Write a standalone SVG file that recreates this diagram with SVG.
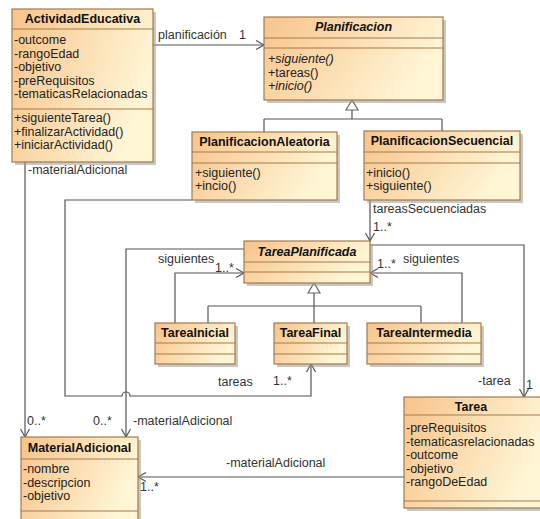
<svg xmlns="http://www.w3.org/2000/svg" width="540" height="519" viewBox="0 0 540 519">
<defs>
<linearGradient id="g" x1="0" y1="0" x2="1" y2="0.35">
<stop offset="0" stop-color="#F8C38A"/>
<stop offset="1" stop-color="#FFF6D6"/>
</linearGradient>
<marker id="open" markerUnits="userSpaceOnUse" markerWidth="12" markerHeight="12" refX="8" refY="4.5" orient="auto" overflow="visible">
<path d="M0,0 L8,4.5 L0,9" fill="none" stroke="#555" stroke-width="1.2"/>
</marker>
</defs>
<style>
.box{fill:url(#g);stroke:#A47A4C;stroke-width:1.2}
.sh{fill:#9a9a9a;opacity:0.55}
.div{stroke:#A47A4C;stroke-width:1.2}
.t{font-family:"Liberation Sans",Arial,sans-serif;font-size:12.5px;fill:#222}
.h{font-family:"Liberation Sans",Arial,sans-serif;font-size:12.5px;font-weight:bold;fill:#111;text-anchor:middle}
.hi{font-style:italic}
.i{font-style:italic}
.c{fill:none;stroke:#555;stroke-width:1.2}
.a{marker-end:url(#open)}
.l{font-family:"Liberation Sans",Arial,sans-serif;font-size:12.5px;fill:#333}
.gen{fill:#fff;stroke:#666;stroke-width:1.2}
</style>

<g id="connectors">
<path class="c a" d="M153,45 H264"/>
<path class="c a" d="M25,162 V437"/>
<path class="c a" d="M244,249 H126 V437"/>
<path class="c a" d="M192,200 H65 V396 H122 A4,4 0 0 1 130,396 H311 V364"/>
<path class="c a" d="M370,200 V241"/>
<path class="c a" d="M370,245 H524 V397"/>
<path class="c a" d="M175,323 V273 H244"/>
<path class="c a" d="M462,323 V273 H370"/>
<path class="c a" d="M404,477 H138"/>
<path class="c" d="M352,110 V119 M264,119 H442 M264,119 V132 M442,119 V131"/>
<polygon class="gen" points="352,100 346,110 358,110"/>
<path class="c" d="M314,293 V306 M208,306 H421 M208,306 V323 M314,306 V323 M421,306 V323"/>
<polygon class="gen" points="314,283 308,293 320,293"/>
<text class="l" x="158" y="39">planificación</text>
<text class="l" x="239" y="39">1</text>
<text class="l" x="28" y="174">-materialAdicional</text>
<text class="l" x="373" y="213">tareasSecuenciadas</text>
<text class="l" x="373" y="231">1..*</text>
<text class="l" x="158" y="263">siguientes</text>
<text class="l" x="215" y="272">1..*</text>
<text class="l" x="377" y="268">1..*</text>
<text class="l" x="403" y="263">siguientes</text>
<text class="l" x="218" y="386">tareas</text>
<text class="l" x="273" y="385">1..*</text>
<text class="l" x="478" y="385">-tarea</text>
<text class="l" x="526" y="389">1</text>
<text class="l" x="27" y="425">0..*</text>
<text class="l" x="93" y="425">0..*</text>
<text class="l" x="133" y="425">-materialAdicional</text>
<text class="l" x="226" y="467">-materialAdicional</text>
<text class="l" x="140" y="491">1..*</text>
</g>

<g id="ActividadEducativa">
<rect class="sh" x="15" y="12" width="141" height="153"/>
<rect class="box" x="12" y="9" width="141" height="153"/>
<path class="div" d="M12,29 H153 M12,109 H153"/>
<text class="h" x="82.5" y="23">ActividadEducativa</text>
<text class="t" x="14" y="44">-outcome</text>
<text class="t" x="14" y="57.5">-rangoEdad</text>
<text class="t" x="14" y="71">-objetivo</text>
<text class="t" x="14" y="84.5">-preRequisitos</text>
<text class="t" x="14" y="98">-tematicasRelacionadas</text>
<text class="t" x="14" y="122">+siguienteTarea()</text>
<text class="t" x="14" y="135.5">+finalizarActividad()</text>
<text class="t" x="14" y="149">+iniciarActividad()</text>
</g>

<g id="Planificacion">
<rect class="sh" x="267" y="20" width="179" height="83"/>
<rect class="box" x="264" y="17" width="179" height="83"/>
<path class="div" d="M264,38 H443 M264,48 H443"/>
<text class="h hi" x="353.5" y="31">Planificacion</text>
<text class="t i" x="268" y="63">+siguiente()</text>
<text class="t" x="268" y="76.5">+tareas()</text>
<text class="t i" x="268" y="90">+inicio()</text>
</g>

<g id="PlanificacionAleatoria">
<rect class="sh" x="195" y="135" width="145" height="68"/>
<rect class="box" x="192" y="132" width="145" height="68"/>
<path class="div" d="M192,152 H337 M192,163 H337"/>
<text class="h" x="264.5" y="146">PlanificacionAleatoria</text>
<text class="t" x="195" y="176.5">+siguiente()</text>
<text class="t" x="195" y="190">+incio()</text>
</g>

<g id="PlanificacionSecuencial">
<rect class="sh" x="367" y="134" width="156" height="69"/>
<rect class="box" x="364" y="131" width="156" height="69"/>
<path class="div" d="M364,152 H520 M364,163 H520"/>
<text class="h" x="442" y="145">PlanificacionSecuencial</text>
<text class="t" x="366" y="176.5">+inicio()</text>
<text class="t" x="366" y="190">+siguiente()</text>
</g>

<g id="TareaPlanificada">
<rect class="sh" x="247" y="244" width="126" height="42"/>
<rect class="box" x="244" y="241" width="126" height="42"/>
<path class="div" d="M244,262 H370 M244,272 H370"/>
<text class="h hi" x="307" y="255.5">TareaPlanificada</text>
</g>

<g id="TareaInicial">
<rect class="sh" x="158" y="326" width="80" height="41"/>
<rect class="box" x="155" y="323" width="80" height="41"/>
<path class="div" d="M155,343 H235 M155,354 H235"/>
<text class="h" x="195" y="337">TareaInicial</text>
</g>

<g id="TareaFinal">
<rect class="sh" x="277" y="326" width="73" height="41"/>
<rect class="box" x="274" y="323" width="73" height="41"/>
<path class="div" d="M274,343 H347 M274,354 H347"/>
<text class="h" x="310.5" y="337">TareaFinal</text>
</g>

<g id="TareaIntermedia">
<rect class="sh" x="370" y="326" width="114" height="41"/>
<rect class="box" x="367" y="323" width="114" height="41"/>
<path class="div" d="M367,343 H481 M367,354 H481"/>
<text class="h" x="424" y="337">TareaIntermedia</text>
</g>

<g id="MaterialAdicional">
<rect class="sh" x="24" y="440" width="117" height="90"/>
<rect class="box" x="21" y="437" width="117" height="90"/>
<path class="div" d="M21,459 H138 M21,511 H138"/>
<text class="h" x="79.5" y="452">MaterialAdicional</text>
<text class="t" x="23" y="473">-nombre</text>
<text class="t" x="23" y="486.5">-descripcion</text>
<text class="t" x="23" y="500">-objetivo</text>
</g>

<g id="Tarea">
<rect class="sh" x="407" y="400" width="142" height="111"/>
<rect class="box" x="404" y="397" width="142" height="111"/>
<path class="div" d="M404,415 H546 M404,501 H546"/>
<text class="h" x="471" y="411">Tarea</text>
<text class="t" x="406" y="432">-preRequisitos</text>
<text class="t" x="406" y="445.5">-tematicasrelacionadas</text>
<text class="t" x="406" y="459">-outcome</text>
<text class="t" x="406" y="472.5">-objetivo</text>
<text class="t" x="406" y="486">-rangoDeEdad</text>
</g>
</svg>
